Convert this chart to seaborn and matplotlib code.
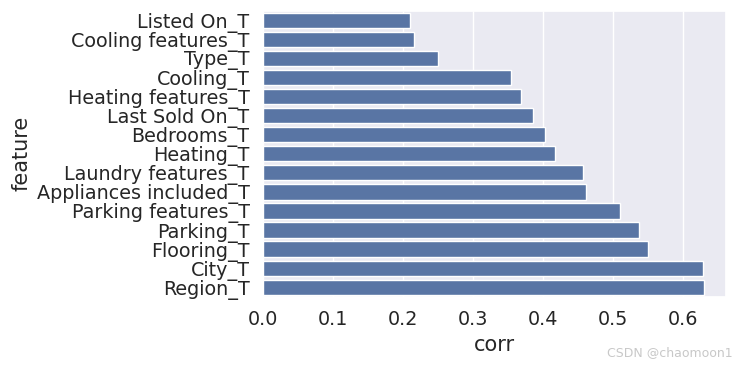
import matplotlib
matplotlib.use("Agg")
import matplotlib.pyplot as plt
import seaborn as sns
import pandas as pd

# features and their correlation with target
features = ["Listed On_T", "Cooling features_T", "Type_T", "Cooling_T",
            "Heating features_T", "Last Sold On_T", "Bedrooms_T", "Heating_T",
            "Laundry features_T", "Appliances included_T", "Parking features_T",
            "Parking_T", "Flooring_T", "City_T", "Region_T"]
corr = [0.210, 0.216, 0.250, 0.355, 0.369, 0.386, 0.403, 0.417,
        0.457, 0.462, 0.511, 0.537, 0.551, 0.629, 0.630]

df = pd.DataFrame({"feature": features, "corr": corr})

sns.set_theme(style="darkgrid", font_scale=1.25)

fig, ax = plt.subplots(figsize=(7.36, 3.66), dpi=100)
sns.barplot(data=df, x="corr", y="feature", ax=ax)
fig.subplots_adjust(left=0.357, right=0.986, top=0.971, bottom=0.189)

# watermark from the reference
fig.text(0.995, 0.02, "CSDN @chaomoon1", ha="right", va="bottom",
         fontsize=9, color="#c8c8c8")

fig.savefig("out.png")
plt.close(fig)
